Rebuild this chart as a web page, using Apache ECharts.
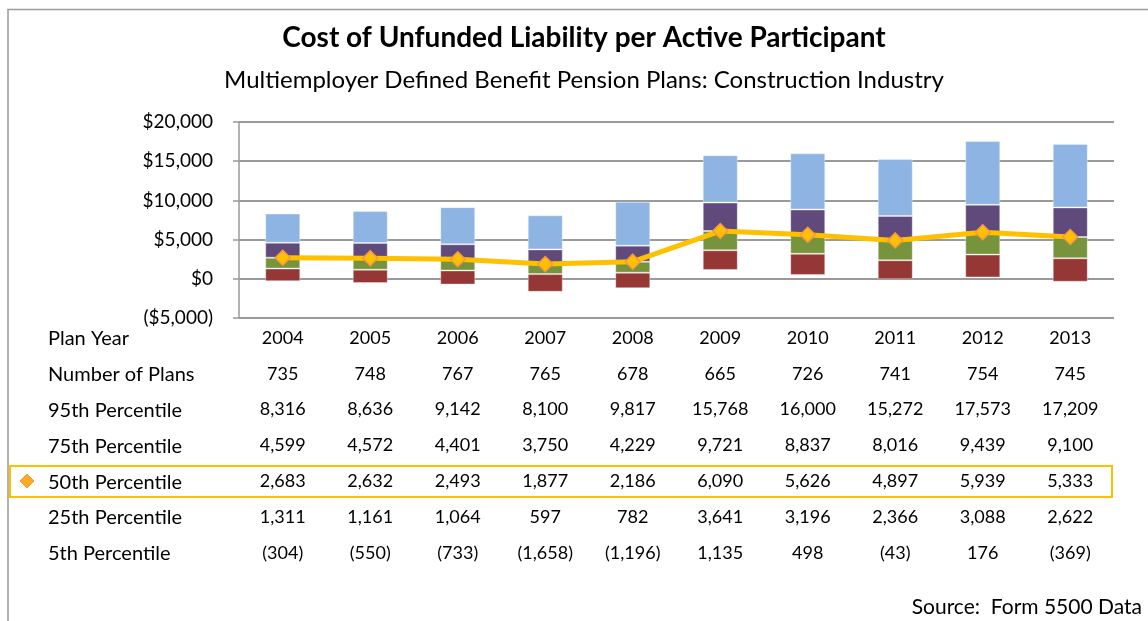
<!DOCTYPE html>
<html>
<head>
<meta charset="utf-8">
<title>Cost of Unfunded Liability per Active Participant</title>
<script src="https://cdn.jsdelivr.net/npm/echarts@6/dist/echarts.min.js"></script>
<style>
  html, body { margin: 0; padding: 0; background: #ffffff; }
  #chart { width: 1148px; height: 621px; }
</style>
</head>
<body>
<div id="chart"></div>
<script>
// Plan years and per-year statistics (dollars per active participant)
const years = ['2004', '2005', '2006', '2007', '2008', '2009', '2010', '2011', '2012', '2013'];
const numPlans = [735, 748, 767, 765, 678, 665, 726, 741, 754, 745];
const p95 = [8316, 8636, 9142, 8100, 9817, 15768, 16000, 15272, 17573, 17209];
const p75 = [4599, 4572, 4401, 3750, 4229, 9721, 8837, 8016, 9439, 9100];
const p50 = [2683, 2632, 2493, 1877, 2186, 6090, 5626, 4897, 5939, 5333];
const p25 = [1311, 1161, 1064, 597, 782, 3641, 3196, 2366, 3088, 2622];
const p5 = [-304, -550, -733, -1658, -1196, 1135, 498, -43, 176, -369];

const rowLabels = ['Plan Year', 'Number of Plans', '95th Percentile', '75th Percentile',
  '50th Percentile', '25th Percentile', '5th Percentile'];
const yTicks = { min: -5000, max: 20000, step: 5000 };

const FONT = 'Lato, "Open Sans", sans-serif';

function fmtNum(v) {
  const s = Math.abs(v).toLocaleString('en-US');
  return v < 0 ? '(' + s + ')' : s;
}
function fmtDollar(v) {
  const s = '$' + Math.abs(v).toLocaleString('en-US');
  return v < 0 ? '(' + s + ')' : s;
}

// Floating segments between successive percentiles
const diff = (hi, lo) => hi.map((v, i) => v - lo[i]);
const segments = [
  { name: '5th-25th', data: diff(p25, p5), color: '#953735' },
  { name: '25th-50th', data: diff(p50, p25), color: '#77933C' },
  { name: '50th-75th', data: diff(p75, p50), color: '#604A7B' },
  { name: '75th-95th', data: diff(p95, p75), color: '#8EB4E3' }
];

const rowData = [
  years,
  numPlans.map(fmtNum),
  p95.map(fmtNum),
  p75.map(fmtNum),
  p50.map(fmtNum),
  p25.map(fmtNum),
  p5.map(fmtNum)
];

const ROW_GAP = 35.8;
const gridBottomY = 318;

// One category axis per table row, stacked below the plot
const xAxes = rowData.map((row, k) => ({
  type: 'category',
  data: row,
  position: 'bottom',
  offset: k * ROW_GAP,
  axisLine: { show: false, onZero: false },
  axisTick: { show: false },
  splitLine: { show: false },
  axisLabel: {
    interval: 0,
    margin: 11,
    fontFamily: FONT,
    fontSize: 18,
    color: '#000'
  }
}));

const series = [
  {
    name: 'base',
    type: 'bar',
    stack: 'range',
    stackStrategy: 'all',
    data: p5,
    barWidth: '40%',
    itemStyle: { color: 'rgba(0,0,0,0)' },
    silent: true
  }
].concat(segments.map(s => ({
  name: s.name,
  type: 'bar',
  stack: 'range',
  stackStrategy: 'all',
  data: s.data,
  barWidth: '40%',
  itemStyle: { color: s.color, borderColor: 'rgba(255,255,255,0.35)', borderWidth: 1 }
}))).concat([{
  name: '50th Percentile',
  type: 'line',
  data: p50,
  z: 5,
  symbol: 'diamond',
  symbolSize: 15,
  lineStyle: { color: '#FFC000', width: 5 },
  itemStyle: { color: '#FFC000', borderColor: '#F79646', borderWidth: 1.5 }
}]);

const graphics = [
  // outer frame
  { type: 'rect', shape: { x: 8, y: 9.5, width: 1200, height: 700 },
    style: { fill: 'none', stroke: '#9a9a9a', lineWidth: 1.5 }, silent: true, z: 0 },
  { type: 'text', x: 584, y: 38,
    style: { text: 'Cost of Unfunded Liability per Active Participant', fontFamily: FONT,
      fontSize: 28, fontWeight: 'bold', fill: '#000', textAlign: 'center', textVerticalAlign: 'middle' } },
  { type: 'text', x: 584, y: 80,
    style: { text: 'Multiemployer Defined Benefit Pension Plans: Construction Industry', fontFamily: FONT,
      fontSize: 24, fill: '#000', textAlign: 'center', textVerticalAlign: 'middle' } },
  // highlight around the median row
  { type: 'rect', shape: { x: 10, y: 466, width: 1102, height: 31 },
    style: { fill: 'none', stroke: '#FFC000', lineWidth: 2 } },
  { type: 'polygon', shape: { points: [[27, 474], [34, 481], [27, 488], [20, 481]] },
    style: { fill: '#FBAA22', stroke: '#F79646', lineWidth: 1 } },
  { type: 'text', x: 1142, y: 607,
    style: { text: 'Source:  Form 5500 Data', fontFamily: FONT, fontSize: 21, fill: '#000',
      textAlign: 'right', textVerticalAlign: 'middle' } }
].concat(rowLabels.map((t, k) => ({
  type: 'text', x: 48, y: 339 + k * ROW_GAP,
  style: { text: t, fontFamily: FONT, fontSize: 20, fill: '#000',
    textAlign: 'left', textVerticalAlign: 'middle' }
})));

const chart = echarts.init(document.getElementById('chart'), null, { renderer: 'canvas' });
chart.setOption({
  animation: false,
  backgroundColor: '#ffffff',
  grid: { left: 239, right: 34, top: 122, bottom: 621 - gridBottomY, containLabel: false },
  xAxis: xAxes,
  yAxis: {
    type: 'value',
    min: yTicks.min,
    max: yTicks.max,
    interval: yTicks.step,
    axisLine: { show: true, lineStyle: { color: '#9a9a9a', width: 1.5 } },
    axisTick: { show: true, length: 6, lineStyle: { color: '#9a9a9a', width: 1.5 } },
    splitLine: { show: true, lineStyle: { color: '#9a9a9a', width: 2 } },
    axisLabel: {
      margin: 26,
      fontFamily: FONT,
      fontSize: 19,
      color: '#000',
      formatter: fmtDollar
    }
  },
  series: series,
  graphic: graphics
});
</script>
</body>
</html>
